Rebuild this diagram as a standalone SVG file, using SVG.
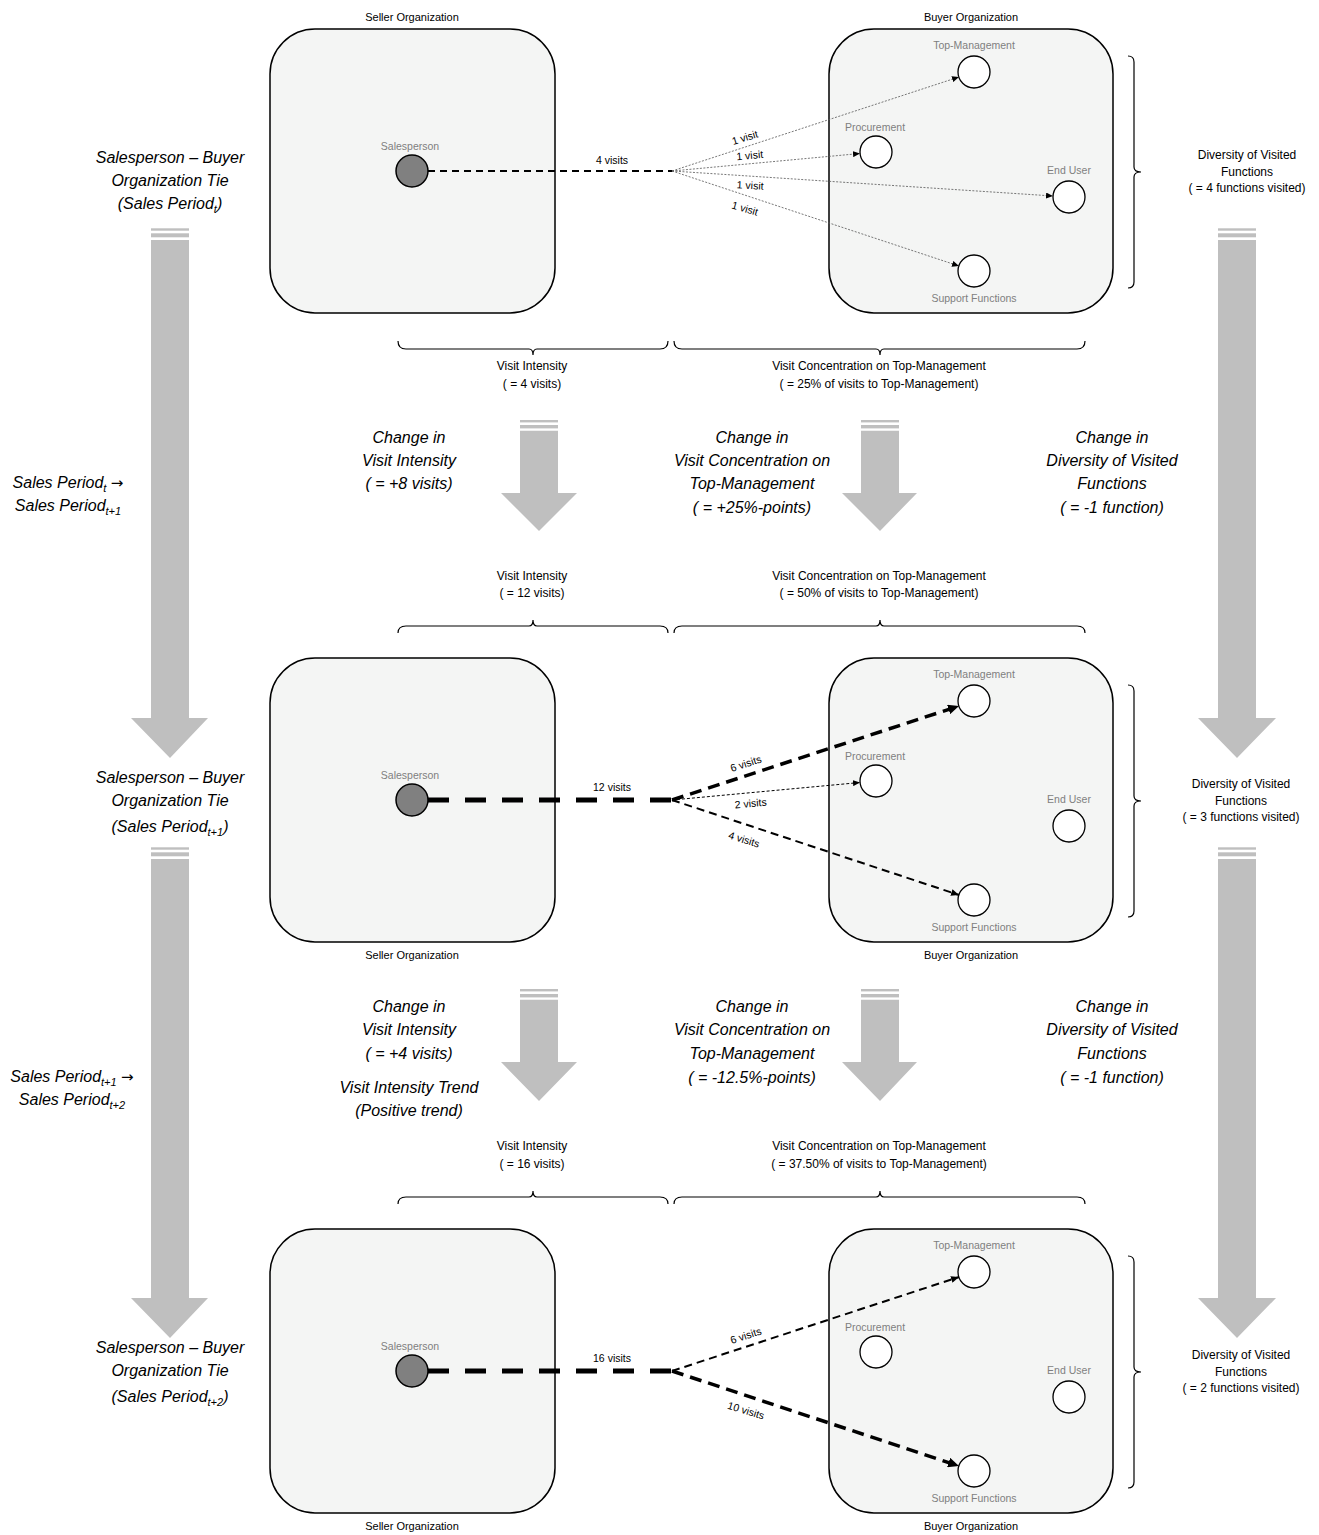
<svg xmlns="http://www.w3.org/2000/svg" width="1319" height="1535" viewBox="0 0 1319 1535">
<defs>
<style>
text{font-family:"Liberation Sans",Arial,sans-serif;fill:#000}
.org{font-size:11px;text-anchor:middle}
.nl{font-size:10.5px;text-anchor:middle;fill:#7f7f7f}
.lbl{font-size:12px;text-anchor:middle}
.el{font-size:10.5px;text-anchor:middle}
.it{font-size:16px;font-style:italic;text-anchor:middle}
.arw{font-family:"DejaVu Sans",sans-serif;font-style:normal;font-size:15px}
.box{fill:#F4F5F4;stroke:#000;stroke-width:1.5}
.fn{fill:#fff;stroke:#000;stroke-width:1.3}
.sp{fill:#808080;stroke:#000;stroke-width:1.5}
.br{fill:none;stroke:#000;stroke-width:1.2}
.ar{fill:#BFBFBF}
.dot{fill:none;stroke:#555;stroke-width:0.8;stroke-dasharray:2 1.5}
</style>
<marker id="aS" markerUnits="userSpaceOnUse" markerWidth="7" markerHeight="6" refX="7" refY="3" orient="auto"><path d="M0,0 L7,3 L0,6 Z" fill="#000"/></marker>
<marker id="aM" markerUnits="userSpaceOnUse" markerWidth="8" markerHeight="7" refX="8" refY="3.5" orient="auto"><path d="M0,0 L8,3.5 L0,7 Z" fill="#000"/></marker>
<marker id="aL" markerUnits="userSpaceOnUse" markerWidth="11" markerHeight="10" refX="11" refY="5" orient="auto"><path d="M0,0 L11,5 L0,10 Z" fill="#000"/></marker>
</defs>
<rect width="1319" height="1535" fill="#fff"/>

<!-- Panel 1 -->
<g id="seller1"><rect class="box" x="270" y="29" width="285" height="284" rx="45"/><text class="org" x="412" y="21">Seller Organization</text></g>
<g id="buyer1"><rect class="box" x="829" y="29" width="284" height="284" rx="45"/><text class="org" x="971" y="21">Buyer Organization</text></g>
<g id="sp1"><circle class="sp" cx="412" cy="171" r="16"/><text class="nl" x="410" y="150">Salesperson</text></g>
<g id="tm1"><circle class="fn" cx="974" cy="72" r="16"/><text class="nl" x="974" y="49">Top-Management</text></g>
<g id="pr1"><circle class="fn" cx="876" cy="152" r="16"/><text class="nl" x="875" y="131">Procurement</text></g>
<g id="eu1"><circle class="fn" cx="1069" cy="197" r="16"/><text class="nl" x="1069" y="174">End User</text></g>
<g id="sf1"><circle class="fn" cx="974" cy="271" r="16"/><text class="nl" x="974" y="302">Support Functions</text></g>

<!-- Panel 2 -->
<g id="seller2"><rect class="box" x="270" y="658" width="285" height="284" rx="45"/><text class="org" x="412" y="959">Seller Organization</text></g>
<g id="buyer2"><rect class="box" x="829" y="658" width="284" height="284" rx="45"/><text class="org" x="971" y="959">Buyer Organization</text></g>
<g id="sp2"><circle class="sp" cx="412" cy="800" r="16"/><text class="nl" x="410" y="779">Salesperson</text></g>
<g id="tm2"><circle class="fn" cx="974" cy="701" r="16"/><text class="nl" x="974" y="678">Top-Management</text></g>
<g id="pr2"><circle class="fn" cx="876" cy="781" r="16"/><text class="nl" x="875" y="760">Procurement</text></g>
<g id="eu2"><circle class="fn" cx="1069" cy="826" r="16"/><text class="nl" x="1069" y="803">End User</text></g>
<g id="sf2"><circle class="fn" cx="974" cy="900" r="16"/><text class="nl" x="974" y="931">Support Functions</text></g>

<!-- Panel 3 -->
<g id="seller3"><rect class="box" x="270" y="1229" width="285" height="284" rx="45"/><text class="org" x="412" y="1530">Seller Organization</text></g>
<g id="buyer3"><rect class="box" x="829" y="1229" width="284" height="284" rx="45"/><text class="org" x="971" y="1530">Buyer Organization</text></g>
<g id="sp3"><circle class="sp" cx="412" cy="1371" r="16"/><text class="nl" x="410" y="1350">Salesperson</text></g>
<g id="tm3"><circle class="fn" cx="974" cy="1272" r="16"/><text class="nl" x="974" y="1249">Top-Management</text></g>
<g id="pr3"><circle class="fn" cx="876" cy="1352" r="16"/><text class="nl" x="875" y="1331">Procurement</text></g>
<g id="eu3"><circle class="fn" cx="1069" cy="1397" r="16"/><text class="nl" x="1069" y="1374">End User</text></g>
<g id="sf3"><circle class="fn" cx="974" cy="1471" r="16"/><text class="nl" x="974" y="1502">Support Functions</text></g>

<!-- Connectors -->
<g id="connectors">
<line x1="428" y1="171" x2="672" y2="171" stroke="#000" stroke-width="2" stroke-dasharray="7 5"/>
<line class="dot" x1="672" y1="171" x2="959" y2="77" marker-end="url(#aS)"/>
<line class="dot" x1="672" y1="171" x2="860" y2="153.5" marker-end="url(#aS)"/>
<line class="dot" x1="672" y1="171" x2="1053" y2="196" marker-end="url(#aS)"/>
<line class="dot" x1="672" y1="171" x2="959" y2="266" marker-end="url(#aS)"/>

<line x1="428" y1="800" x2="672" y2="800" stroke="#000" stroke-width="5" stroke-dasharray="21 16"/>
<line x1="672" y1="800" x2="959" y2="706" stroke="#000" stroke-width="3.5" stroke-dasharray="12 7" marker-end="url(#aL)"/>
<line x1="672" y1="800" x2="860" y2="782.5" stroke="#000" stroke-width="1" stroke-dasharray="3 2" marker-end="url(#aS)"/>
<line x1="672" y1="800" x2="959" y2="895" stroke="#000" stroke-width="2" stroke-dasharray="8 5" marker-end="url(#aM)"/>

<line x1="428" y1="1371" x2="672" y2="1371" stroke="#000" stroke-width="5" stroke-dasharray="21 16"/>
<line x1="672" y1="1371" x2="959" y2="1277" stroke="#000" stroke-width="2" stroke-dasharray="8 5" marker-end="url(#aM)"/>
<line x1="672" y1="1371" x2="959" y2="1466" stroke="#000" stroke-width="3.5" stroke-dasharray="12 7" marker-end="url(#aL)"/>
</g>

<!-- Edge labels -->
<g id="edge-labels">
<text class="el" x="612" y="164">4 visits</text>
<text class="el" transform="translate(746,141) rotate(-17)">1 visit</text>
<text class="el" transform="translate(750,159) rotate(-5)">1 visit</text>
<text class="el" transform="translate(750,189) rotate(3)">1 visit</text>
<text class="el" transform="translate(744,212) rotate(16)">1 visit</text>

<text class="el" x="612" y="791">12 visits</text>
<text class="el" transform="translate(747,767) rotate(-18)">6 visits</text>
<text class="el" transform="translate(751,807) rotate(-5)">2 visits</text>
<text class="el" transform="translate(743,843) rotate(17)">4 visits</text>

<text class="el" x="612" y="1362">16 visits</text>
<text class="el" transform="translate(747,1339) rotate(-18)">6 visits</text>
<text class="el" transform="translate(745,1414) rotate(17)">10 visits</text>
</g>

<!-- Braces -->
<g id="braces">
<path class="br" d="M398,341 Q398,349 406,349 L529,349 Q533,349 533,355 Q533,349 537,349 L660,349 Q668,349 668,341"/>
<path class="br" d="M674,341 Q674,349 682,349 L876,349 Q880,349 880,355 Q880,349 884,349 L1077,349 Q1085,349 1085,341"/>
<path class="br" d="M398,633 Q398,626 406,626 L529,626 Q533,626 533,620 Q533,626 537,626 L660,626 Q668,626 668,633"/>
<path class="br" d="M674,633 Q674,626 682,626 L876,626 Q880,626 880,620 Q880,626 884,626 L1077,626 Q1085,626 1085,633"/>
<path class="br" d="M398,1204 Q398,1197 406,1197 L529,1197 Q533,1197 533,1191 Q533,1197 537,1197 L660,1197 Q668,1197 668,1204"/>
<path class="br" d="M674,1204 Q674,1197 682,1197 L876,1197 Q880,1197 880,1191 Q880,1197 884,1197 L1077,1197 Q1085,1197 1085,1204"/>
<path class="br" d="M1128,56 Q1134,56 1134,62 L1134,167 Q1134,172 1141,172 Q1134,172 1134,177 L1134,282 Q1134,288 1128,288"/>
<path class="br" d="M1128,685 Q1134,685 1134,691 L1134,796 Q1134,801 1141,801 Q1134,801 1134,806 L1134,911 Q1134,917 1128,917"/>
<path class="br" d="M1128,1256 Q1134,1256 1134,1262 L1134,1367 Q1134,1372 1141,1372 Q1134,1372 1134,1377 L1134,1482 Q1134,1488 1128,1488"/>
</g>

<!-- Measure labels -->
<g id="measures">
<text class="lbl" x="532" y="370">Visit Intensity</text>
<text class="lbl" x="532" y="388">( = 4 visits)</text>
<text class="lbl" x="879" y="370">Visit Concentration on Top-Management</text>
<text class="lbl" x="879" y="388">( = 25% of visits to Top-Management)</text>
<text class="lbl" x="532" y="580">Visit Intensity</text>
<text class="lbl" x="532" y="597">( = 12 visits)</text>
<text class="lbl" x="879" y="580">Visit Concentration on Top-Management</text>
<text class="lbl" x="879" y="597">( = 50% of visits to Top-Management)</text>
<text class="lbl" x="532" y="1150">Visit Intensity</text>
<text class="lbl" x="532" y="1168">( = 16 visits)</text>
<text class="lbl" x="879" y="1150">Visit Concentration on Top-Management</text>
<text class="lbl" x="879" y="1168">( = 37.50% of visits to Top-Management)</text>

<text class="lbl" x="1247" y="159">Diversity of Visited</text>
<text class="lbl" x="1247" y="176">Functions</text>
<text class="lbl" x="1247" y="192">( = 4 functions visited)</text>
<text class="lbl" x="1241" y="788">Diversity of Visited</text>
<text class="lbl" x="1241" y="805">Functions</text>
<text class="lbl" x="1241" y="821">( = 3 functions visited)</text>
<text class="lbl" x="1241" y="1359">Diversity of Visited</text>
<text class="lbl" x="1241" y="1376">Functions</text>
<text class="lbl" x="1241" y="1392">( = 2 functions visited)</text>
</g>

<!-- Big arrows -->
<g id="arrows">
<g id="arrowL1"><rect class="ar" x="151" y="228.3" width="38" height="2.4"/><rect class="ar" x="151" y="233.3" width="38" height="4"/><polygon class="ar" points="151,240 189,240 189,718 208,718 170,758 131,718 151,718"/></g>
<g id="arrowL2"><rect class="ar" x="151" y="847.3" width="38" height="2.4"/><rect class="ar" x="151" y="852.3" width="38" height="4"/><polygon class="ar" points="151,859 189,859 189,1298 208,1298 170,1338 131,1298 151,1298"/></g>
<g id="arrowR1"><rect class="ar" x="1218" y="228.3" width="38" height="2.4"/><rect class="ar" x="1218" y="233.3" width="38" height="4"/><polygon class="ar" points="1218,240 1256,240 1256,718 1276,718 1237,758 1198,718 1218,718"/></g>
<g id="arrowR2"><rect class="ar" x="1218" y="847.3" width="38" height="2.4"/><rect class="ar" x="1218" y="852.3" width="38" height="4"/><polygon class="ar" points="1218,859 1256,859 1256,1298 1276,1298 1237,1338 1198,1298 1218,1298"/></g>
<g id="arrowM1"><rect class="ar" x="520" y="420" width="38" height="2.4"/><rect class="ar" x="520" y="425" width="38" height="3.4"/><polygon class="ar" points="520,430.7 558,430.7 558,493 577,493 539,531 501,493 520,493"/></g>
<g id="arrowC1"><rect class="ar" x="861" y="420" width="38" height="2.4"/><rect class="ar" x="861" y="425" width="38" height="3.4"/><polygon class="ar" points="861,430.7 899,430.7 899,493 917,493 880,531 842,493 861,493"/></g>
<g id="arrowM2"><rect class="ar" x="520" y="989" width="38" height="2.4"/><rect class="ar" x="520" y="994" width="38" height="3.4"/><polygon class="ar" points="520,999.7 558,999.7 558,1062 577,1062 539,1101 501,1062 520,1062"/></g>
<g id="arrowC2"><rect class="ar" x="861" y="989" width="38" height="2.4"/><rect class="ar" x="861" y="994" width="38" height="3.4"/><polygon class="ar" points="861,999.7 899,999.7 899,1062 917,1062 880,1101 842,1062 861,1062"/></g>
</g>

<!-- Italic annotations -->
<g id="annotations">
<text class="it" x="170" y="163">Salesperson – Buyer</text>
<text class="it" x="170" y="186">Organization Tie</text>
<text class="it" x="170" y="209">(Sales Period<tspan font-size="11" dy="4">t</tspan><tspan dy="-4">)</tspan></text>

<text class="it" x="68" y="488">Sales Period<tspan font-size="11" dy="4">t</tspan><tspan dy="-4"> </tspan><tspan class="arw">→</tspan></text>
<text class="it" x="68" y="511">Sales Period<tspan font-size="11" dy="4">t+1</tspan></text>

<text class="it" x="170" y="783">Salesperson – Buyer</text>
<text class="it" x="170" y="806">Organization Tie</text>
<text class="it" x="170" y="832">(Sales Period<tspan font-size="11" dy="4">t+1</tspan><tspan dy="-4">)</tspan></text>

<text class="it" x="72" y="1082">Sales Period<tspan font-size="11" dy="4">t+1</tspan><tspan dy="-4"> </tspan><tspan class="arw">→</tspan></text>
<text class="it" x="72" y="1105">Sales Period<tspan font-size="11" dy="4">t+2</tspan></text>

<text class="it" x="170" y="1353">Salesperson – Buyer</text>
<text class="it" x="170" y="1376">Organization Tie</text>
<text class="it" x="170" y="1402">(Sales Period<tspan font-size="11" dy="4">t+2</tspan><tspan dy="-4">)</tspan></text>

<text class="it" x="409" y="443">Change in</text>
<text class="it" x="409" y="466">Visit Intensity</text>
<text class="it" x="409" y="489">( = +8 visits)</text>
<text class="it" x="752" y="443">Change in</text>
<text class="it" x="752" y="466">Visit Concentration on</text>
<text class="it" x="752" y="489">Top-Management</text>
<text class="it" x="752" y="513">( = +25%-points)</text>
<text class="it" x="1112" y="443">Change in</text>
<text class="it" x="1112" y="466">Diversity of Visited</text>
<text class="it" x="1112" y="489">Functions</text>
<text class="it" x="1112" y="513">( = -1 function)</text>

<text class="it" x="409" y="1012">Change in</text>
<text class="it" x="409" y="1035">Visit Intensity</text>
<text class="it" x="409" y="1059">( = +4 visits)</text>
<text class="it" x="409" y="1093">Visit Intensity Trend</text>
<text class="it" x="409" y="1116">(Positive trend)</text>
<text class="it" x="752" y="1012">Change in</text>
<text class="it" x="752" y="1035">Visit Concentration on</text>
<text class="it" x="752" y="1059">Top-Management</text>
<text class="it" x="752" y="1083">( = -12.5%-points)</text>
<text class="it" x="1112" y="1012">Change in</text>
<text class="it" x="1112" y="1035">Diversity of Visited</text>
<text class="it" x="1112" y="1059">Functions</text>
<text class="it" x="1112" y="1083">( = -1 function)</text>
</g>
</svg>
